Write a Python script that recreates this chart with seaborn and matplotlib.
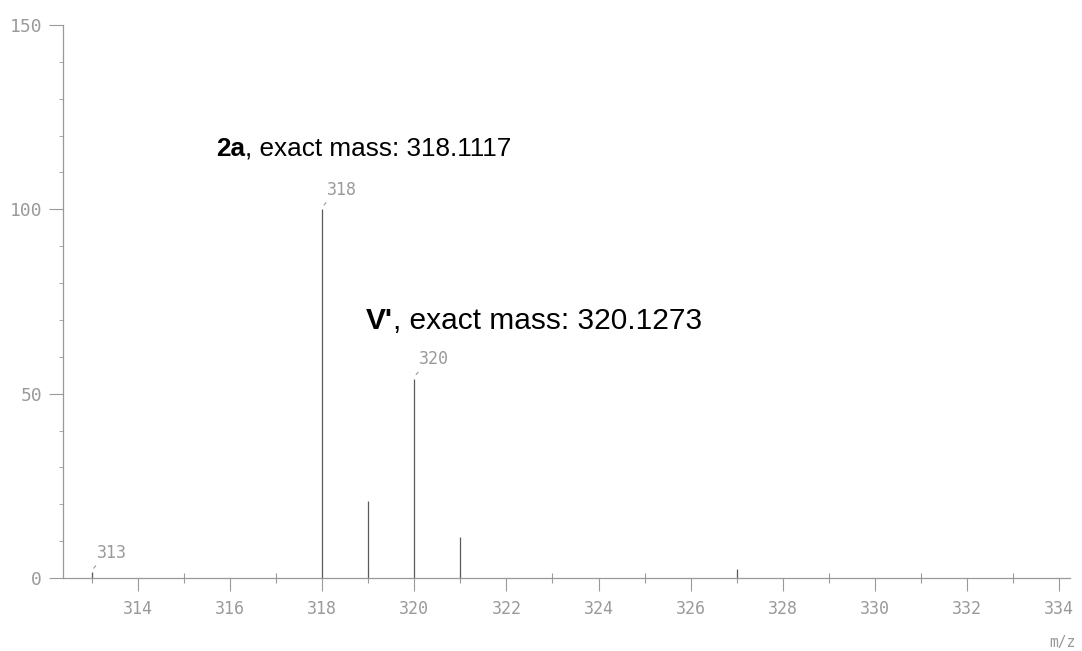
import matplotlib
matplotlib.use("Agg")
import matplotlib.pyplot as plt
from matplotlib.ticker import MultipleLocator
import seaborn as sns
import pandas as pd

# Isotope cluster peaks (m/z, relative intensity)
mz = [313, 318, 319, 320, 321, 327]
intensity = [1.5, 100, 21, 54, 11, 2.5]
labelled_peaks = [313, 318, 320]

major_xticks = [314, 316, 318, 320, 322, 324, 326, 328, 330, 332, 334]
yticks = [0, 50, 100, 150]

ann_2a = ("2a", ", exact mass: 318.1117")
ann_v = ("V'", ", exact mass: 320.1273")

spec = pd.DataFrame({"mz": mz, "intensity": intensity})

sns.set_style("white")
plt.rcParams["font.family"] = ["DejaVu Sans Mono", "DejaVu Sans"]

fig = plt.figure(figsize=(10.82, 6.51), dpi=100)
ax = fig.add_axes([0.0582, 0.1121, 0.9308, 0.8495])

grey = "#9a9a9a"
ax.vlines(spec["mz"], 0, spec["intensity"], color="#5a5a5a", lw=0.9)

ax.set_xlim(312.37, 334.24)
ax.set_ylim(0, 150)
ax.set_xticks(major_xticks)
ax.xaxis.set_minor_locator(MultipleLocator(1))
ax.set_yticks(yticks)
ax.yaxis.set_minor_locator(MultipleLocator(10))

ax.tick_params(axis="both", which="both", bottom=True, left=True)
ax.tick_params(axis="x", which="major", direction="out", length=9, width=0.8,
               color=grey, labelcolor=grey, labelsize=12, pad=7)
ax.tick_params(axis="x", which="minor", direction="inout", length=7, width=0.8,
               color=grey)
ax.tick_params(axis="y", which="major", direction="out", length=10, width=0.8,
               color=grey, labelcolor=grey, labelsize=13, pad=5)
ax.tick_params(axis="y", which="minor", direction="out", length=3, width=0.6,
               color=grey)

sns.despine(ax=ax, top=True, right=True)
for side in ("left", "bottom"):
    ax.spines[side].set_color("#999999")
    ax.spines[side].set_linewidth(0.9)
    ax.spines[side].set_linestyle((0, (4, 1)))

# Peak labels with a short leader stroke
for m, h in zip(mz, intensity):
    if m in labelled_peaks:
        ax.annotate("", xy=(m, h + 0.6), xytext=(m + 0.12, h + 2.4),
                    arrowprops=dict(arrowstyle="-", color=grey, lw=0.8))
        ax.text(m + 0.1, h + 2.9, str(m), color=grey, fontsize=12,
                ha="left", va="bottom")

fig.text(0.994, 1 - 643 / 651, "m/z", color=grey, fontsize=10.5,
         ha="right", va="center")

# Compound annotations: bold compound id followed by plain text
def bold_then_plain(x, y, bold, rest, size):
    t = ax.text(x, y, bold, fontsize=size, fontweight="bold",
                family="Liberation Sans", color="black", ha="left", va="baseline")
    fig.canvas.draw()
    bb = t.get_window_extent()
    y_px = ax.transData.transform((x, y))[1]
    x2, _ = ax.transData.inverted().transform((bb.x1, y_px))
    ax.text(x2, y, rest, fontsize=size, family="Liberation Sans",
            color="black", ha="left", va="baseline")

bold_then_plain(315.7, 114.5, ann_2a[0], ann_2a[1], 18.8)
bold_then_plain(318.95, 67.5, ann_v[0], ann_v[1], 21.5)

fig.savefig("out.png", dpi=100, facecolor="white")
